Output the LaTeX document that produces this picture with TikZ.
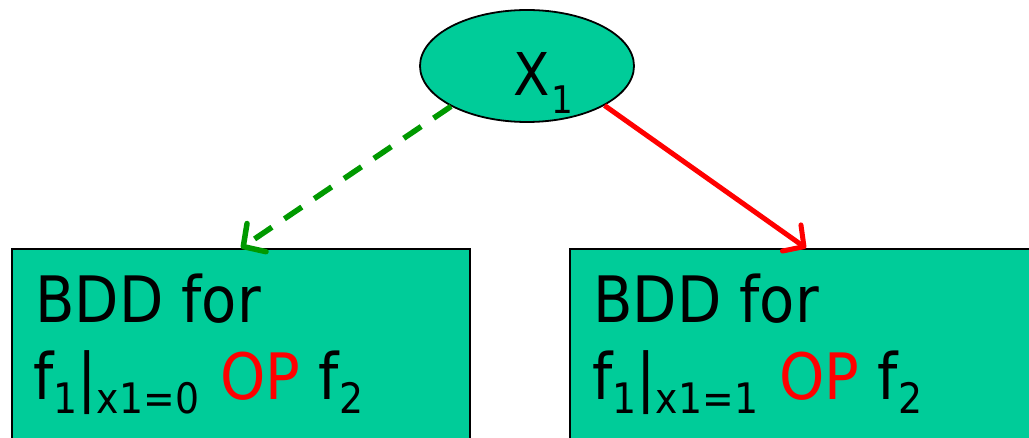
\documentclass[tikz,border=0pt]{standalone}
\usepackage{fontspec}
\setmainfont{DejaVu Sans}[FakeStretch=0.9]
\usetikzlibrary{arrows.meta,shapes.geometric}
\definecolor{nodefill}{HTML}{00CC99}
\definecolor{zerogreen}{HTML}{009900}
\definecolor{onered}{HTML}{FF0000}
\newcommand\lowsub[2][-14pt]{\raisebox{#1}{\fontsize{42}{42}\selectfont #2}}
\tikzset{
  bddbox/.style={draw=black, line width=1.8pt, fill=nodefill, inner sep=0pt, minimum height=211pt},
  txt/.style={anchor=base west, inner sep=0pt, font=\fontsize{64}{64}\selectfont},
  zeroedge/.style={draw=zerogreen, line width=5.5pt, dash pattern=on 21pt off 15pt, -{Straight Barb[length=16pt,width=34pt,round]}},
  oneedge/.style={draw=onered, line width=5pt, -{Straight Barb[length=15pt,width=32pt,round]}}
}
\begin{document}
\begin{tikzpicture}[x=1pt,y=-1pt]
\useasboundingbox (0,0) rectangle (1029,438);
\clip (0,0) rectangle (1029,438);
\node[ellipse, draw=black, line width=1.8pt, fill=nodefill, minimum width=214pt, minimum height=112pt, inner sep=0pt] (x1) at (527,66) {};
\node[anchor=base west, inner sep=0pt, font=\fontsize{59}{59}\selectfont] (x1lab) at (513,96) {X\kern2pt\raisebox{-18pt}{\fontsize{38}{38}\selectfont 1}};
\node[bddbox, minimum width=458pt] (lb) at (241,354.5) {};
\node[bddbox, minimum width=472pt] (rb) at (806,354.5) {};
\node[txt] (lt1) at (35,323) {BDD for};
\node[txt] (lt2) at (33,400) {f\lowsub{1}|\lowsub{x1=0}\kern3pt{} \textcolor{onered}{OP} f\lowsub{2}};
\node[txt] (rt1) at (593,323) {BDD for};
\node[txt] (rt2) at (592,400) {f\lowsub{1}|\lowsub{x1=1}\kern3pt{} \textcolor{onered}{OP} f\lowsub{2}};
\draw[zeroedge] (x1.-152) -- (lb.north);
\draw[oneedge] (x1.-27.5) -- (rb.north);
\end{tikzpicture}
\end{document}
